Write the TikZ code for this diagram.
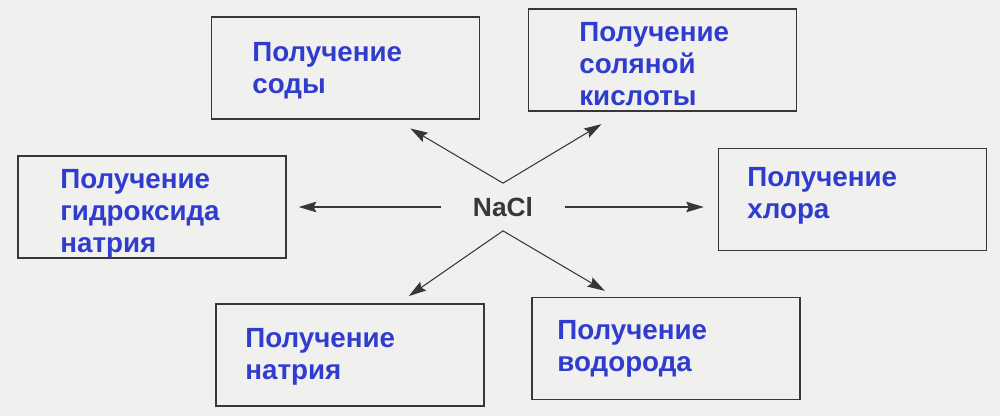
\documentclass[tikz,border=0pt]{standalone}
\usepackage{fontspec}
\setmainfont{Liberation Sans}
\usetikzlibrary{arrows.meta,calc}

\definecolor{labelblue}{RGB}{48,60,205}
\definecolor{inkgray}{RGB}{55,55,55}
\definecolor{paper}{RGB}{240,240,238}

\begin{document}
\begin{tikzpicture}[x=0.02cm,y=-0.02cm,>={Stealth[length=10pt,width=6pt,inset=1.5pt]},
  box node/.style={draw=inkgray,line width=0.9pt,minimum width=5.36cm,minimum height=2.04cm,inner sep=0pt},
  label node/.style={anchor=base west,align=left,inner sep=0pt,text=labelblue,
    font=\fontsize{15.8pt}{18pt}\selectfont\bfseries},
  salt node/.style={minimum width=2.46cm,minimum height=0.94cm,inner sep=0pt,text=inkgray,
    font=\fontsize{15pt}{18pt}\selectfont\bfseries}]

  \fill[paper] (0,0) rectangle (1000,416);
  \useasboundingbox (0,0) rectangle (1000,416);

  % boxes
  \node[box node] (soda) at (345.5,68) {};
  \node[box node] (hcl) at (662.5,60) {};
  \node[box node] (naoh) at (152,207) {};
  \node[box node] (chlor) at (852.5,199.5) {};
  \node[box node] (sodium) at (350,355) {};
  \node[box node] (hydro) at (666,348.5) {};

  % labels (anchored at the baseline of the last line)
  \node[label node] (soda text) at (252,93) {Получение\\соды};
  \node[label node] (hcl text) at (579,105) {Получение\\соляной\\кислоты};
  \node[label node] (naoh text) at (60,252) {Получение\\гидроксида\\натрия};
  \node[label node] (chlor text) at (747,218) {Получение\\хлора};
  \node[label node] (sodium text) at (245,379) {Получение\\натрия};
  \node[label node] (hydro text) at (557,371) {Получение\\водорода};

  \node[salt node] (nacl) at (503,207) {NaCl};

  \path[->,color=inkgray,line width=0.6pt]
    (nacl.north) edge[shorten >=0.34cm] ($(soda.south west)!0.686!(soda.south east)$)
    (nacl.north) edge[shorten >=0.48cm] ($(hcl.south west)!0.35!(hcl.south east)$)
    (nacl.west) edge[shorten >=0.24cm] (nacl.west -| naoh.east)
    (nacl.east) edge[shorten >=0.28cm] (nacl.east -| chlor.west)
    (nacl.south) edge[shorten >=0.25cm] ($(sodium.north west)!0.68!(sodium.north east)$)
    (nacl.south) edge[shorten >=0.23cm] ($(hydro.north west)!0.31!(hydro.north east)$);

\end{tikzpicture}
\end{document}
